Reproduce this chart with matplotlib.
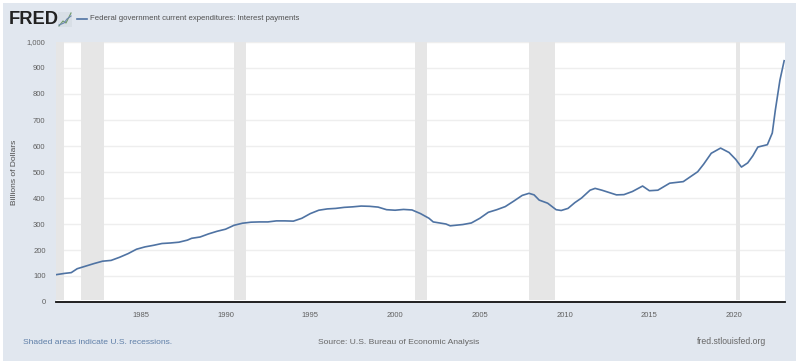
import matplotlib
matplotlib.use("Agg")
import matplotlib.pyplot as plt
from matplotlib.patches import Rectangle

title = "Federal government current expenditures: Interest payments"
years = [1980.0,1980.5,1980.9,1981.25,1981.75,1982.25,1982.75,1983.25,1983.75,1984.25,1984.75,
         1985.25,1985.75,1986.25,1986.75,1987.25,1987.75,1988.0,1988.5,1989.0,1989.5,1990.0,1990.5,
         1991.0,1991.5,1992.0,1992.5,1993.0,1993.5,1994.0,1994.5,1995.0,1995.5,1996.0,1996.5,1997.0,
         1997.5,1998.0,1998.5,1999.0,1999.5,2000.0,2000.5,2001.0,2001.5,2002.0,2002.25,2003.0,2003.25,
         2004.0,2004.5,2005.0,2005.5,2006.0,2006.5,2007.0,2007.5,2007.9,2008.2,2008.5,2009.0,2009.5,
         2009.8,2010.2,2010.6,2011.0,2011.5,2011.8,2012.2,2013.06,2013.5,2014.0,2014.6,2015.0,2015.5,
         2016.2,2017.0,2017.85,2018.2,2018.65,2019.2,2019.7,2020.1,2020.43,2020.8,2021.1,2021.4,2021.96,
         2022.25,2022.43,2022.7,2022.95]
values = [105,110,113,128,138,148,157,160,172,186,203,212,218,225,227,230,238,245,250,262,272,280,295,
          303,307,308,308,312,312,311,322,340,353,358,360,364,366,369,368,365,355,353,356,354,340,322,
          308,300,293,298,304,322,345,355,367,388,410,418,412,392,380,355,352,360,382,400,430,437,430,
          412,413,425,446,428,430,457,463,501,530,572,592,575,548,519,535,562,596,605,650,738,853,928]
recessions = [(1980.0,1980.5),(1981.5,1982.85),(1990.5,1991.2),(2001.2,2001.87),(2007.92,2009.46),(2020.1,2020.35)]
xticks = [1985,1990,1995,2000,2005,2010,2015,2020]
yticks = list(range(0,1001,100))
ylabels = ["0","100","200","300","400","500","600","700","800","900","1,000"]

W, H = 800, 364
FONT = "Liberation Sans"

fig = plt.figure(figsize=(8,3.64), dpi=100, facecolor="white")
def fx(p): return p/W
def fy(p): return 1-p/H
fig.add_artist(Rectangle((fx(3),fy(361)),793/W,358/H,transform=fig.transFigure,fc="#e1e7ef",ec="none",zorder=-5))

ax = fig.add_axes([fx(56),fy(302),729/W,260/H],zorder=2)
ax.set_xlim(1980,2023); ax.set_ylim(0,1000)
ax.set_facecolor("white")
for a,b in recessions:
    ax.axvspan(a,b,ymin=0.008,color="#e6e6e6",lw=0,zorder=2)
ax.grid(axis="y",color="#eeeeee",lw=1,zorder=1)
ax.set_axisbelow(True)
ax.plot(years,values,color="#4f73a3",lw=1.2,zorder=3,solid_joinstyle="round")
for s in ["top","left","right"]: ax.spines[s].set_visible(False)
ax.spines["bottom"].set_color("#111111"); ax.spines["bottom"].set_linewidth(1.3)
ax.set_xticks(xticks); ax.set_xticklabels([str(x) for x in xticks],family=FONT,fontsize=5.5,color="#606060")
ax.tick_params(axis="x",length=0,pad=7.5)
ax.set_yticks(yticks); ax.set_yticklabels(ylabels,family=FONT,fontsize=5.5,color="#606060")
ax.tick_params(axis="y",length=0,pad=7.5)

fig.text(fx(15),fy(172),"Billions of Dollars",rotation=90,ha="center",va="center",family=FONT,fontsize=6,color="#505050")
fig.text(fx(8.5),fy(20),"FRED",ha="left",va="center",family=FONT,weight="bold",fontsize=13.2,color="#222222")
# logo icon
fig.add_artist(Rectangle((fx(58),fy(27)),14/W,15/H,transform=fig.transFigure,fc="#d8dfe6",ec="none"))
fig.add_artist(plt.Line2D([fx(59),fx(63),fx(66),fx(71)],[fy(26),fy(21),fy(23),fy(13)],transform=fig.transFigure,color="#6f9a6a",lw=0.8))
fig.add_artist(plt.Line2D([fx(59),fx(64),fx(67),fx(71)],[fy(25),fy(23),fy(19),fy(16)],transform=fig.transFigure,color="#6d87b0",lw=0.8))
# legend
fig.add_artist(plt.Line2D([fx(77),fx(87)],[fy(18.5),fy(18.5)],transform=fig.transFigure,color="#4f73a3",lw=1.2))
fig.text(fx(90),fy(19),title,ha="left",va="center",family=FONT,fontsize=5.6,color="#505050")
fig.text(fx(23),fy(342),"Shaded areas indicate U.S. recessions.",ha="left",va="center",family=FONT,fontsize=6.1,color="#5f7fa8")
fig.text(fx(317.5),fy(342),"Source: U.S. Bureau of Economic Analysis",ha="left",va="center",family=FONT,fontsize=6.1,color="#666666")
fig.text(fx(766),fy(342),"fred.stlouisfed.org",ha="right",va="center",family=FONT,fontsize=6.2,color="#666666")
fig.savefig("out.png",dpi=100,facecolor="white")
